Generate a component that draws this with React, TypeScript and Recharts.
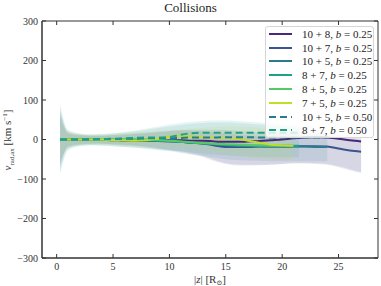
import React from "react";
import { ComposedChart, Line, Area, XAxis, YAxis } from "recharts";

const FONT = '"Liberation Serif", "DejaVu Serif", serif';
const INK = "#333";

// |z| sample positions (R_sun)
const zGrid = [0.3, 1, 2, 3, 4, 5, 6, 7, 8, 9, 10, 11, 12, 13, 14, 15, 16, 17, 18, 19, 20, 21, 21.5, 22, 23, 24, 25, 26, 27];

const xTicks = [0, 5, 10, 15, 20, 25];
const yTicks = [-300, -200, -100, 0, 100, 200, 300];

const N = null;

// median v_rad,ax per run
const m10p8 = [0, 0, 0, 0, -1, -1, -2, -2, -3, -3, -2, -2, -3, -3, -5, -6, -6, -5, -4, -2, 0, 3, 4, 5, 6, 5, 2, -2, -5];
const m10p7 = [0, 0, 0, -1, -1, -2, -2, -3, -3, -4, -5, -6, -8, -10, -15, -19, -19, -19, -18, -18, -18, -17, -17, -17, -17, -18, -23, -28, -31];
const m10p5 = [0, 0, 0, 0, -1, -1, -2, -2, -3, -3, -4, -6, -8, -10, -12, -14, -16, -17, -17, -18, -18, -18, -18, -18, -19, -19, N, N, N];
const m8p7 = [0, 0, 0, 0, 0, 0, -1, -1, -2, -3, -4, -6, -8, -10, -12, -14, -15, -16, -16, -16, -16, -16, -16, N, N, N, N, N, N];
const m8p5 = [0, 0, 0, 0, 0, 0, 1, 1, 0, -1, -3, -5, -7, -9, -11, -12, -13, -14, -15, -16, -16, N, N, N, N, N, N, N, N];
const m7p5 = [0, 0, 0, 0, 0, -1, -2, -3, -2, 2, 7, 9, 8, 6, 5, 4, 2, -3, -8, -13, -15, -16, N, N, N, N, N, N, N];
const d10p5 = [0, 0, 0, 0, 1, 1, 2, 2, 3, 3, 3, 4, 5, 5, 5, 6, 6, 6, 5, 5, 5, 5, 5, 5, 5, 5, N, N, N];
const d8p7 = [0, 0, 0, 1, 1, 2, 3, 4, 5, 5, 6, 12, 16, 17, 17, 17, 17, 17, 17, 17, 17, 17, 17, 17, N, N, N, N, N];

// spread envelopes (low / high)
const lo10p8 = [-70, -18, -12, -10, -10, -12, -13, -15, -18, -22, -26, -30, -35, -42, -52, -60, -63, -64, -64, -63, -62, -60, -60, -60, -62, -64, -70, -78, -85];
const hi10p8 = [70, 18, 12, 10, 10, 12, 14, 16, 18, 20, 22, 24, 25, 25, 25, 24, 22, 20, 18, 17, 16, 16, 16, 16, 15, 14, 12, 10, 8];
const lo10p7 = [-60, -20, -14, -12, -12, -13, -15, -17, -20, -24, -28, -32, -38, -45, -55, -62, -66, -66, -65, -64, -62, -60, -60, -60, -60, -62, -68, -75, -82];
const hi10p7 = [60, 16, 10, 9, 9, 10, 12, 14, 16, 18, 20, 22, 22, 20, 18, 15, 12, 10, 8, 8, 8, 8, 8, 8, 8, 8, 6, 3, 0];
const lo10p5 = [-80, -25, -16, -14, -15, -17, -19, -21, -24, -27, -30, -34, -38, -42, -46, -50, -52, -53, -54, -55, -55, -55, -55, -55, -55, -55, N, N, N];
const hi10p5 = [80, 22, 14, 12, 13, 15, 18, 21, 25, 29, 33, 37, 40, 42, 43, 43, 42, 40, 38, 36, 34, 32, 30, 28, 25, 22, N, N, N];
const lo8p7 = [-90, -28, -18, -15, -15, -17, -19, -21, -23, -25, -28, -30, -33, -36, -38, -40, -42, -43, -44, -45, -45, -45, -45, N, N, N, N, N, N];
const hi8p7 = [90, 25, 16, 13, 14, 16, 19, 23, 28, 33, 38, 42, 45, 47, 48, 48, 47, 45, 43, 41, 39, 37, 36, N, N, N, N, N, N];
const lo7p5 = [-50, -20, -14, -12, -12, -13, -15, -17, -19, -20, -21, -22, -24, -28, -32, -36, -40, -44, -48, -50, -50, -50, N, N, N, N, N, N, N];
const hi7p5 = [50, 20, 14, 12, 12, 14, 16, 18, 20, 22, 24, 26, 28, 30, 32, 33, 33, 32, 30, 28, 26, 24, N, N, N, N, N, N, N];

const series = [
  { key: "m10p8", vals: m10p8, color: "#482878", a: "10 + 8", b: "0.25", dashed: false },
  { key: "m10p7", vals: m10p7, color: "#3a548c", a: "10 + 7", b: "0.25", dashed: false },
  { key: "m10p5", vals: m10p5, color: "#287c8e", a: "10 + 5", b: "0.25", dashed: false },
  { key: "m8p7", vals: m8p7, color: "#1fa187", a: "8 + 7", b: "0.25", dashed: false },
  { key: "m8p5", vals: m8p5, color: "#58c765", a: "8 + 5", b: "0.25", dashed: false },
  { key: "m7p5", vals: m7p5, color: "#bddf26", a: "7 + 5", b: "0.25", dashed: false },
  { key: "d10p5", vals: d10p5, color: "#287c8e", a: "10 + 5", b: "0.50", dashed: true },
  { key: "d8p7", vals: d8p7, color: "#1fa187", a: "8 + 7", b: "0.50", dashed: true },
];

const bands = [
  { key: "b10p8", lo: lo10p8, hi: hi10p8, color: "#482878" },
  { key: "b10p7", lo: lo10p7, hi: hi10p7, color: "#3a548c" },
  { key: "b10p5", lo: lo10p5, hi: hi10p5, color: "#287c8e" },
  { key: "b8p7", lo: lo8p7, hi: hi8p7, color: "#1fa187" },
  { key: "b7p5", lo: lo7p5, hi: hi7p5, color: "#bddf26" },
];

const data = zGrid.map((z, i) => {
  const row: any = { z };
  series.forEach((s) => (row[s.key] = s.vals[i]));
  bands.forEach((b) => {
    if (b.lo[i] != null) row[b.key] = [b.lo[i], b.hi[i]];
  });
  return row;
});

const fmt = (v: number) => (v < 0 ? "\u2212" + Math.abs(v) : String(v));

const LeftTick = ({ x, y, payload }: any) => (
  <g>
    <line x1={x + 4} x2={x + 8} y1={y} y2={y} stroke={INK} />
    <text x={x} y={y} dy="0.35em" textAnchor="end" fontSize={10} fill={INK} fontFamily={FONT}>
      {fmt(payload.value)}
    </text>
  </g>
);

const BottomTick = ({ x, y, payload }: any) => (
  <g>
    <line x1={x} x2={x} y1={y - 5} y2={y - 9} stroke={INK} />
    <text x={x} y={y} dy="0.71em" textAnchor="middle" fontSize={10} fill={INK} fontFamily={FONT}>
      {payload.value}
    </text>
  </g>
);

const TopTick = ({ x, y }: any) => <line x1={x} x2={x} y1={y} y2={y + 4} stroke={INK} />;
const RightTick = ({ x, y }: any) => <line x1={x} x2={x - 4} y1={y} y2={y} stroke={INK} />;

const XLabel = () => (
  <text x={210} y={283} textAnchor="middle" fontSize={11} fill={INK} fontFamily={FONT}>
    |<tspan fontStyle="italic">z</tspan>| [R<tspan dy={2} fontSize={7}>{"\u2299"}</tspan>
    <tspan dy={-2}>]</tspan>
  </text>
);

const YLabel = () => (
  <text x={11} y={140} transform="rotate(-90 11 140)" textAnchor="middle" fontSize={11} fill={INK} fontFamily={FONT}>
    <tspan fontStyle="italic">v</tspan>
    <tspan dy={2.5} fontSize={7}>rad,ax</tspan>
    <tspan dy={-2.5}> [km s</tspan>
    <tspan dy={-4} fontSize={7}>{"\u22121"}</tspan>
    <tspan dy={4}>]</tspan>
  </text>
);

function LegendBox() {
  return (
    <div
      style={{
        position: "absolute",
        left: 265,
        top: 26,
        width: 109,
        height: 112,
        boxSizing: "border-box",
        background: "rgba(255,255,255,0.8)",
        border: "1px solid #d6d6d6",
        borderRadius: 3,
        fontFamily: FONT,
        fontSize: 11,
        color: "#222",
      }}
    >
      {series.map((s, i) => (
        <div key={s.key} style={{ position: "absolute", left: 0, top: i * 13.8, height: 13.8, display: "flex", alignItems: "center", whiteSpace: "nowrap" }}>
          <svg width={30} height={8} style={{ marginLeft: 3 }}>
            <line x1={0} x2={23} y1={4} y2={4} stroke={s.color} strokeWidth={2} strokeDasharray={s.dashed ? "7 4" : undefined} />
          </svg>
          <span style={{ marginLeft: 3 }}>
            {s.a}, <i>b</i> = {s.b}
          </span>
        </div>
      ))}
    </div>
  );
}

export default function App() {
  return (
    <div style={{ position: "absolute", left: 0, top: 0, width: 381, height: 286, background: "#fff" }}>
      <div style={{ position: "absolute", left: 0, top: -1, width: 381, textAlign: "center", fontFamily: FONT, fontSize: 13, lineHeight: "18px", color: "#222" }}>
        Collisions
      </div>
      <ComposedChart width={381} height={286} data={data} margin={{ top: 20, right: 2, bottom: 0, left: 0 }}>
        <XAxis
          dataKey="z"
          type="number"
          domain={[-1.3, 28.5]}
          allowDataOverflow
          ticks={xTicks}
          height={28}
          tickSize={0}
          tickMargin={5}
          tick={<BottomTick />}
          axisLine={{ stroke: INK, strokeWidth: 1.5 }}
          label={<XLabel />}
        />
        <XAxis
          xAxisId="top"
          dataKey="z"
          orientation="top"
          type="number"
          domain={[-1.3, 28.5]}
          allowDataOverflow
          ticks={xTicks}
          height={1}
          tickSize={0}
          tickMargin={0}
          tick={<TopTick />}
          axisLine={{ stroke: INK, strokeWidth: 1 }}
        />
        <YAxis
          type="number"
          domain={[-300, 300]}
          allowDataOverflow
          ticks={yTicks}
          width={42}
          tickSize={0}
          tickMargin={4}
          tick={<LeftTick />}
          axisLine={{ stroke: INK, strokeWidth: 1.5 }}
          label={<YLabel />}
        />
        <YAxis
          yAxisId="right"
          orientation="right"
          type="number"
          domain={[-300, 300]}
          allowDataOverflow
          ticks={yTicks}
          width={1}
          tickSize={0}
          tickMargin={0}
          tick={<RightTick />}
          axisLine={{ stroke: INK, strokeWidth: 1 }}
        />
        {bands.map((b) => (
          <Area
            key={b.key}
            dataKey={b.key}
            type="monotone"
            stroke="none"
            fill={b.color}
            fillOpacity={0.11}
            isAnimationActive={false}
            activeDot={false}
          />
        ))}
        {series.map((s) => (
          <Line
            key={s.key}
            dataKey={s.key}
            type="monotone"
            stroke={s.color}
            strokeWidth={2}
            strokeDasharray={s.dashed ? "7 4" : undefined}
            dot={false}
            activeDot={false}
            isAnimationActive={false}
          />
        ))}
        {/* invisible series so the mirrored axes get a domain */}
        <Line xAxisId="top" yAxisId="right" dataKey="m10p8" stroke="none" dot={false} activeDot={false} isAnimationActive={false} legendType="none" />
      </ComposedChart>
      <LegendBox />
    </div>
  );
}
